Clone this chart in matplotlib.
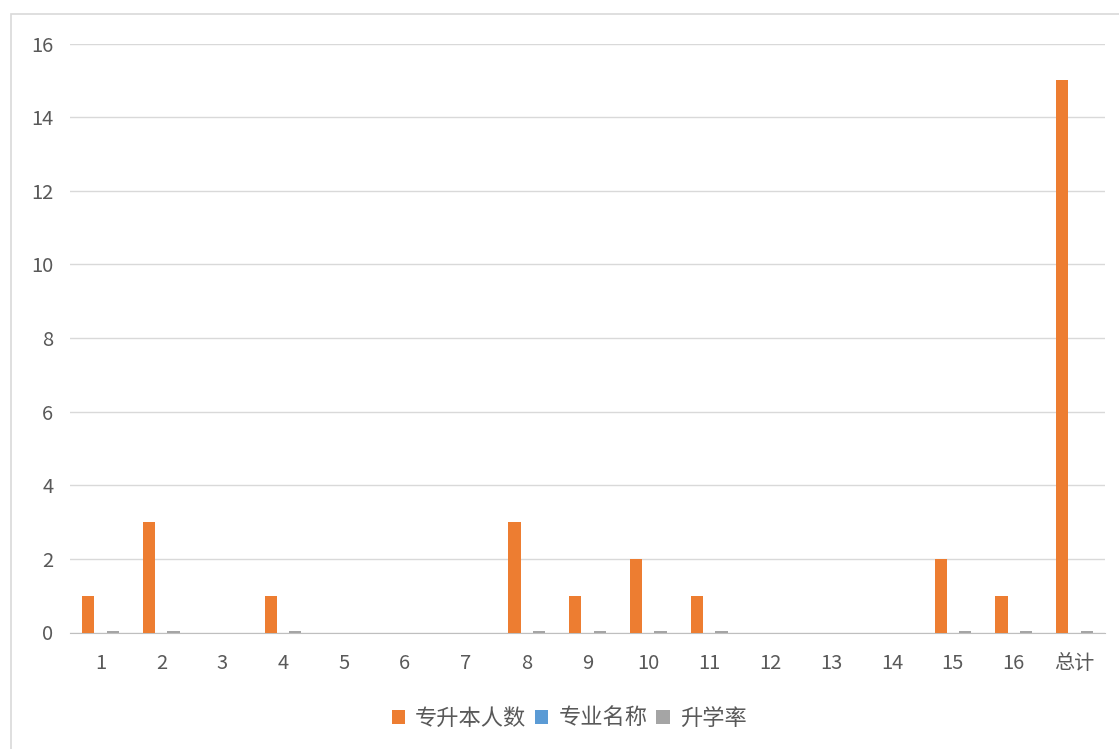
import numpy as np
import matplotlib
matplotlib.use("Agg")
import matplotlib.pyplot as plt
from matplotlib.patches import Rectangle

plt.rcParams['font.family'] = ['Noto Sans CJK SC', 'DejaVu Sans']

categories = ['1', '2', '3', '4', '5', '6', '7', '8', '9', '10', '11', '12', '13', '14', '15', '16', '总计']
students = [1, 3, 0, 1, 0, 0, 0, 3, 1, 2, 1, 0, 0, 0, 2, 1, 15]   # 专升本人数
major = [0] * 17                                                 # 专业名称
rate = [0.05, 0.05, 0, 0.05, 0, 0, 0, 0.05, 0.05, 0.05, 0.05, 0, 0, 0, 0.05, 0.05, 0.05]  # 升学率

series_names = ['专升本人数', '专业名称', '升学率']
colors = ['#ED7D31', '#5B9BD5', '#A5A5A5']

W, H = 1119, 749
fig = plt.figure(figsize=(W / 100, H / 100), dpi=100)
ax = fig.add_axes([70 / W, 1 - 632.5 / H, (1105 - 70) / W, (632.5 - 43.5) / H])

# chart frame (excel-like border, cropped on right/bottom)
fig.patches.append(Rectangle((11 / W, -0.1), 1.2, 1.1 - 14 / H, transform=fig.transFigure,
                             fill=False, edgecolor='#d9d9d9', lw=1.2))

x = np.arange(len(categories))
bw = 0.2
for i, (vals, name, c) in enumerate(zip([students, major, rate], series_names, colors)):
    ax.bar(x + (i - 1) * bw, vals, width=bw, color=c, label=name, zorder=3)

ax.set_xlim(-0.5, len(categories) - 0.5)
ax.set_ylim(0, 16)
ax.set_yticks(range(0, 17, 2))
ax.set_xticks(x)
ax.set_xticklabels(categories)
ax.yaxis.grid(True, color='#d9d9d9', lw=1)
ax.set_axisbelow(True)
for s in ['top', 'right', 'left']:
    ax.spines[s].set_visible(False)
ax.spines['bottom'].set_color('#bfbfbf')
ax.tick_params(axis='both', length=0, colors='#595959', labelsize=14.5)
ax.tick_params(axis='x', pad=15)
ax.tick_params(axis='y', pad=12)

leg = fig.legend(loc='center', bbox_to_anchor=(569 / W, 1 - 718 / H), ncol=3, frameon=False,
                 fontsize=16, handlelength=0.6, handleheight=0.6, handletextpad=0.45, columnspacing=0.4)
for t in leg.get_texts():
    t.set_color('#595959')

fig.savefig('out.png', dpi=100)
